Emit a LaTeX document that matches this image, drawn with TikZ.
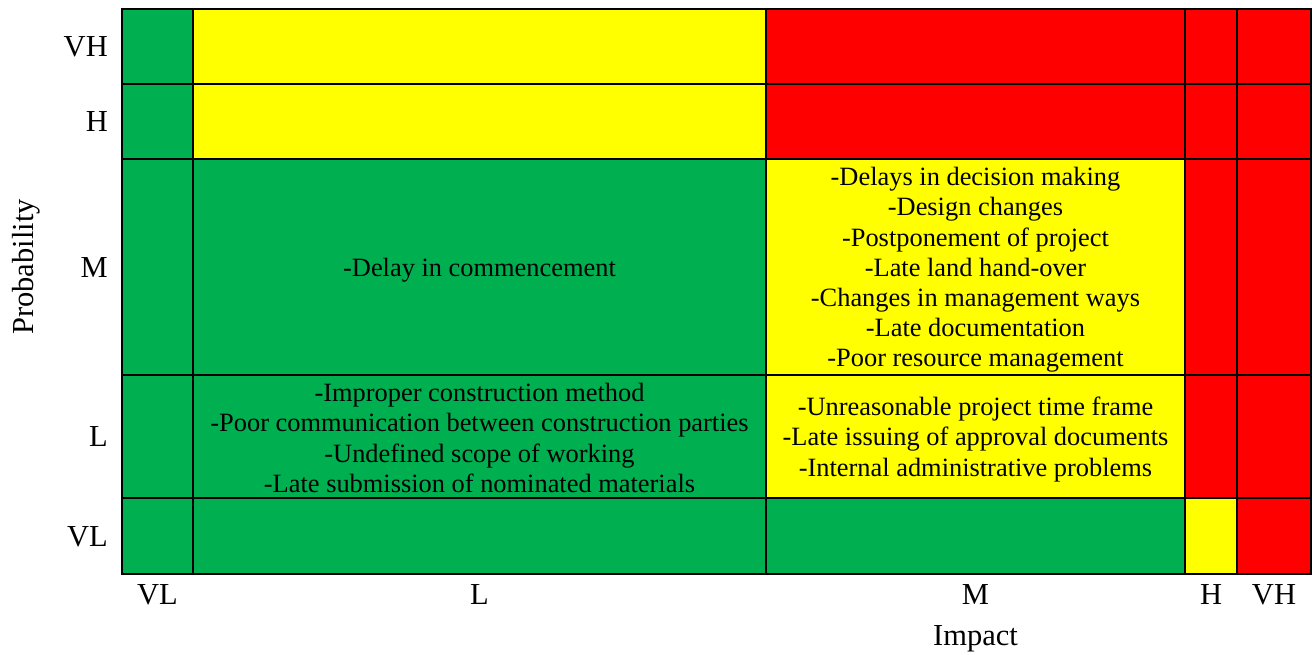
\documentclass[tikz,border=0pt]{standalone}
\usepackage{fontspec}
\setmainfont{Liberation Serif}
\definecolor{riskG}{RGB}{0,176,80}
\definecolor{riskY}{RGB}{255,255,0}
\definecolor{riskR}{RGB}{255,0,0}
\tikzset{
  cell/.style = {draw=black, line width=2pt},
  lbl/.style = {font=\fontsize{30.5}{34}\selectfont, inner sep=0pt},
  txt/.style = {font=\fontsize{26.4}{30.2}\selectfont, inner sep=0pt, align=center}
}

\begin{document}
\begin{tikzpicture}[x=1pt,y=-1pt]
  \useasboundingbox (0,0) rectangle (1312,654);
  \def\xs{{122,193,766,1185,1237,1311}} % column edges
  \def\ys{{9,84,159,375,498,574}} % row edges
  % cells, one row at a time
  \foreach \row/\cA/\cB/\cC/\cD/\cE in {0/G/Y/R/R/R, 1/G/Y/R/R/R, 2/G/G/Y/R/R, 3/G/G/Y/R/R, 4/G/G/G/Y/R} {
    \foreach \col/\c in {0/\cA, 1/\cB, 2/\cC, 3/\cD, 4/\cE} {
      \pgfmathsetmacro{\xa}{\xs[\col]}
      \pgfmathsetmacro{\xb}{\xs[\col+1]}
      \pgfmathsetmacro{\ya}{\ys[\row]}
      \pgfmathsetmacro{\yb}{\ys[\row+1]}
      \filldraw[cell, fill=risk\c] (\xa,\ya) rectangle (\xb,\yb);
    }
  }
  % probability levels
  \foreach \name/\y in {VH/56.5, H/131, M/277, L/446, VL/546}
    \node[lbl, anchor=base east] (p\name) at (108,\y) {\name};
  % impact levels
  \foreach \name/\x in {VL/157.5, L/479.5, M/975.5, H/1211, VH/1274}
    \node[lbl, anchor=base] (i\name) at (\x,604) {\name};
  % axis titles
  \node[lbl, anchor=base] (impact) at (975.5,645) {Impact};
  \node[lbl, anchor=base, rotate=90] (prob) at (33,267) {Probability};
  % risks
  \node[txt] (lowmid) at (479.5,270) {-Delay in commencement};
  \node[txt] (medmid) at (975.5,270) {-Delays in decision making\\-Design changes\\-Postponement of project\\-Late land hand-over\\-Changes in management ways\\-Late documentation\\-Poor resource management};
  \node[txt] (lowlow) at (479.5,438) {-Improper construction method\\-Poor communication between construction parties\\-Undefined scope of working\\-Late submission of nominated materials};
  \node[txt] (medlow) at (975.5,439.5) {-Unreasonable project time frame\\-Late issuing of approval documents\\-Internal administrative problems};
\end{tikzpicture}
\end{document}
